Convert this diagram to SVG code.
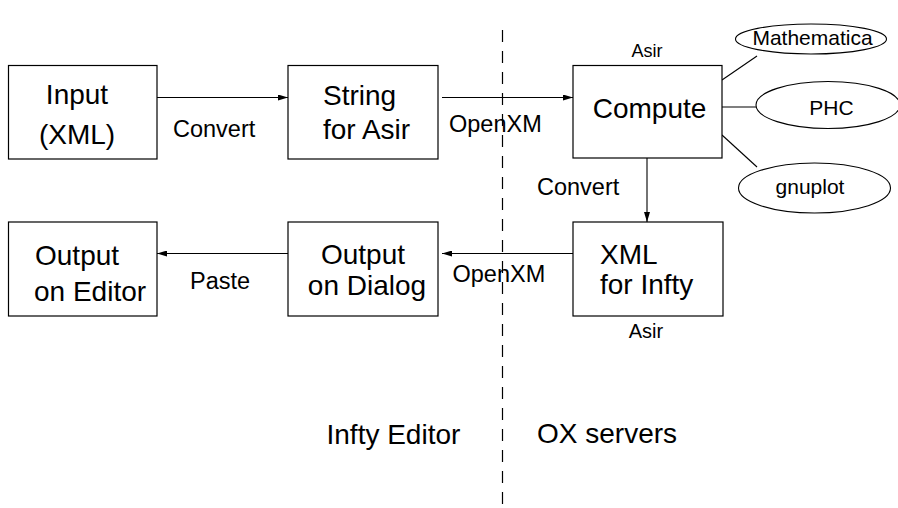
<svg xmlns="http://www.w3.org/2000/svg" width="898" height="508" viewBox="0 0 898 508">
<style>
.box{fill:#fff;stroke:#000;stroke-width:1.2}
.ell{fill:#fff;stroke:#000;stroke-width:1.1}
.ln{fill:none;stroke:#000;stroke-width:1.1}
.t{font-family:"Liberation Sans",Arial,sans-serif;fill:#000}
.big{font-size:28px}
.lab{font-size:23.5px}
.sm{font-size:21px}
.c{text-anchor:middle}
</style>
<defs>
<marker id="ah" viewBox="0 0 10 6" refX="10" refY="3" markerWidth="10" markerHeight="6" markerUnits="userSpaceOnUse" orient="auto">
<path d="M0,0 L10,3 L0,6 Z" fill="#000"/>
</marker>
</defs>
<rect width="898" height="508" fill="#fff"/>
<line x1="502.5" y1="30" x2="502.5" y2="508" stroke="#000" stroke-width="1.2" stroke-dasharray="12,9"/>
<g id="connectors">
<line class="ln" x1="157" y1="97.5" x2="288" y2="97.5" marker-end="url(#ah)"/>
<line class="ln" x1="442" y1="97.5" x2="573" y2="97.5" marker-end="url(#ah)"/>
<line class="ln" x1="647" y1="158" x2="647" y2="222" marker-end="url(#ah)"/>
<line class="ln" x1="573" y1="253.5" x2="442" y2="253.5" marker-end="url(#ah)"/>
<line class="ln" x1="288" y1="253.5" x2="157" y2="253.5" marker-end="url(#ah)"/>
<line class="ln" x1="722" y1="80" x2="757" y2="56"/>
<line class="ln" x1="722" y1="107" x2="756" y2="107"/>
<line class="ln" x1="722" y1="135" x2="757" y2="167"/>
<text class="t lab" x="173" y="136.5">Convert</text>
<text class="t lab" x="449" y="131.5">OpenXM</text>
<text class="t lab" x="537" y="195">Convert</text>
<text class="t lab" x="452.5" y="281.5">OpenXM</text>
<text class="t lab" x="190" y="289">Paste</text>
</g>
<g id="input">
<rect class="box" x="8.5" y="65.5" width="148.5" height="93.5"/>
<text class="t big c" x="77" y="104">Input</text>
<text class="t big c" x="77" y="143.5">(XML)</text>
</g>
<g id="string">
<rect class="box" x="288" y="65.5" width="150" height="93.5"/>
<text class="t big" x="323" y="105">String</text>
<text class="t big" x="323" y="138.5">for Asir</text>
</g>
<g id="compute">
<rect class="box" x="573" y="65.5" width="149" height="92.5"/>
<text class="t big c" x="649.5" y="117.5">Compute</text>
<text class="t c" style="font-size:18px" x="647" y="56.5">Asir</text>
</g>
<g id="mathematica">
<ellipse class="ell" cx="811" cy="39" rx="75.5" ry="15"/>
<text class="t sm c" x="812.5" y="44.5">Mathematica</text>
</g>
<g id="phc">
<ellipse class="ell" cx="828" cy="105" rx="72" ry="23.5"/>
<text class="t sm c" x="831.5" y="115">PHC</text>
</g>
<g id="gnuplot">
<ellipse class="ell" cx="814.5" cy="188" rx="76" ry="25"/>
<text class="t sm c" x="810" y="193.5">gnuplot</text>
</g>
<g id="xml">
<rect class="box" x="573" y="222" width="150" height="94"/>
<text class="t big" x="600" y="263.5">XML</text>
<text class="t big" x="600" y="293.5">for Infty</text>
<text class="t c" style="font-size:20px" x="646" y="337.5">Asir</text>
</g>
<g id="dialog">
<rect class="box" x="288" y="222" width="150" height="94"/>
<text class="t big c" x="363" y="264">Output</text>
<text class="t big c" x="367" y="295">on Dialog</text>
</g>
<g id="editor">
<rect class="box" x="8.5" y="222" width="148.5" height="94"/>
<text class="t big" x="35" y="265">Output</text>
<text class="t big" x="34" y="301">on Editor</text>
</g>
<g id="regions">
<text class="t big" x="326.5" y="443.5">Infty Editor</text>
<text class="t big" x="537" y="443">OX servers</text>
</g>
</svg>
